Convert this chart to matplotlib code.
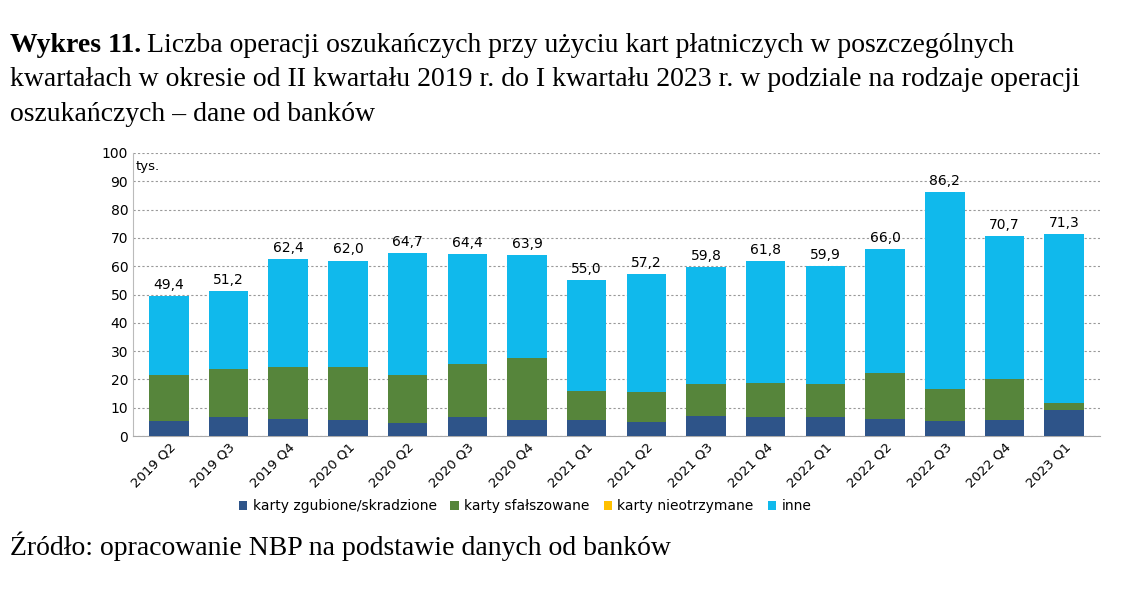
import matplotlib
matplotlib.use("Agg")
import matplotlib.pyplot as plt
import numpy as np

categories = ["2019 Q2","2019 Q3","2019 Q4","2020 Q1","2020 Q2","2020 Q3","2020 Q4","2021 Q1",
              "2021 Q2","2021 Q3","2021 Q4","2022 Q1","2022 Q2","2022 Q3","2022 Q4","2023 Q1"]
totals = [49.4,51.2,62.4,62.0,64.7,64.4,63.9,55.0,57.2,59.8,61.8,59.9,66.0,86.2,70.7,71.3]
zgubione = [5.3,6.7,6.1,5.7,4.6,6.8,5.5,5.8,5.1,7.2,6.8,6.8,6.1,5.3,5.7,9.3]
sfalszowane = [16.2,16.9,18.3,18.6,17.0,18.6,21.9,10.1,10.5,11.0,12.0,11.5,16.1,11.3,14.5,2.3]
nieotrzymane = [0.05]*16
inne = [t-a-b-c for t,a,b,c in zip(totals,zgubione,sfalszowane,nieotrzymane)]
labels_total = ["49,4","51,2","62,4","62,0","64,7","64,4","63,9","55,0","57,2","59,8","61,8","59,9","66,0","86,2","70,7","71,3"]

fig = plt.figure(figsize=(11.41,5.89), dpi=100)
ax = fig.add_axes([133/1141, 1-436/589, (1100-133)/1141, (436-153)/589])
x = np.arange(len(categories))
w = 0.66
cols = ["#2e5489","#56853b","#ffc000","#10b9ec"]
names = ["karty zgubione/skradzione","karty sfałszowane","karty nieotrzymane","inne"]
bottom = np.zeros(len(x))
for vals,c,n in zip([zgubione,sfalszowane,nieotrzymane,inne],cols,names):
    ax.bar(x, vals, w, bottom=bottom, color=c, label=n, zorder=3)
    bottom += np.array(vals)
for xi,t,l in zip(x,totals,labels_total):
    ax.text(xi, t+1.5, l, ha="center", va="bottom", fontsize=10, family="DejaVu Sans")
ax.set_ylim(0,100)
ax.set_xlim(-0.6, len(x)-0.4)
ax.set_yticks(range(0,101,10))
ax.yaxis.grid(True, linestyle=(0,(2,2)), color="#999999", linewidth=0.8, zorder=0)
ax.set_xticks(x)
ax.set_xticklabels(categories, rotation=45, ha="right", rotation_mode="anchor", fontsize=9.5)
ax.tick_params(axis="y", length=0, labelsize=10)
ax.tick_params(axis="x", length=0)
for s in ["top","right"]:
    ax.spines[s].set_visible(False)
ax.spines["left"].set_color("#bbbbbb")
ax.spines["bottom"].set_color("#aaaaaa")
ax.text(0.003, 0.975, "tys.", transform=ax.transAxes, fontsize=9.5, va="top")
fig.legend(loc="center", bbox_to_anchor=(525/1141, 1-506/589), ncol=4, frameon=False,
           fontsize=10, handlelength=0.6, handleheight=0.6, columnspacing=1.0, handletextpad=0.4)

fs = 20
serif = "Liberation Serif"
bold = fig.text(10/1141, 1-45/589, "Wykres 11.", fontsize=fs, family=serif, fontweight="bold", va="center")
fig.canvas.draw()
bb = bold.get_window_extent()
fig.text((bb.x1 + 6)/1141, 1-45/589, "Liczba operacji oszukańczych przy użyciu kart płatniczych w poszczególnych",
         fontsize=fs, family=serif, va="center")
fig.text(10/1141, 1-80/589, "kwartałach w okresie od II kwartału 2019 r. do I kwartału 2023 r. w podziale na rodzaje operacji",
         fontsize=fs, family=serif, va="center")
fig.text(10/1141, 1-114/589, "oszukańczych – dane od banków", fontsize=fs, family=serif, va="center")
fig.text(10/1141, 1-546/589, "Źródło: opracowanie NBP na podstawie danych od banków", fontsize=fs,
         family=serif, va="center")
fig.savefig("out.png", dpi=100)
